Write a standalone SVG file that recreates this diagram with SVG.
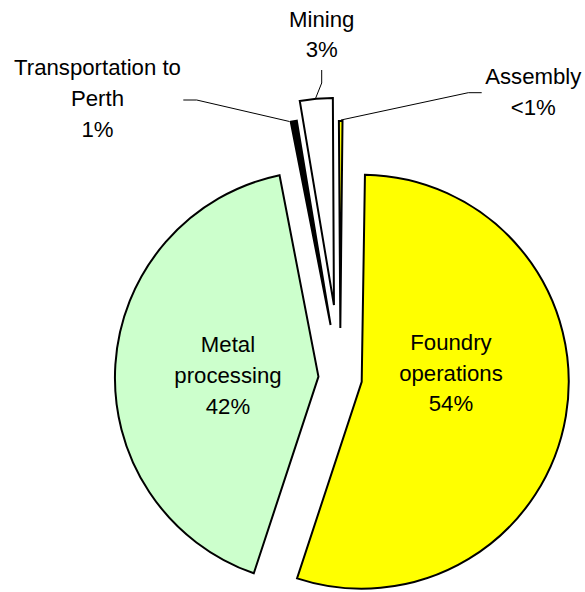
<svg xmlns="http://www.w3.org/2000/svg" width="585" height="592" viewBox="0 0 585 592">
  <style>
    .slice { stroke: #000; stroke-width: 2; }
    .lbl { font-family: "Liberation Sans", Arial, sans-serif; font-size: 22.2px; fill: #000; text-anchor: middle; }
    .lead { fill: none; stroke: #000; stroke-width: 1; }
  </style>
  <rect width="585" height="592" fill="#fff"/>

  <!-- exploded pie, radius 207, centre (340.2, 378.1); angles clockwise from 12 o'clock -->
  <g id="foundry">
    <path class="slice" fill="#FFFF00" d="M361.70,381.72 L364.95,174.75 A207,207 0 1 1 297.05,578.36 Z"/>
    <text class="lbl" x="451" y="350">Foundry</text>
    <text class="lbl" x="451" y="380.5">operations</text>
    <text class="lbl" x="451" y="411">54%</text>
  </g>

  <g id="metal">
    <path class="slice" fill="#CCFFCC" d="M318.45,376.67 L253.80,573.31 A207,207 0 0 1 279.54,175.24 Z"/>
    <text class="lbl" x="228" y="352">Metal</text>
    <text class="lbl" x="228" y="383">processing</text>
    <text class="lbl" x="228" y="413.5">42%</text>
  </g>

  <g id="transport">
    <path class="slice" fill="#000" d="M330.59,324.96 L290.74,121.83 A207,207 0 0 1 296.78,120.74 Z"/>
    <text class="lbl" x="97.5" y="75">Transportation to</text>
    <text class="lbl" x="97.5" y="106">Perth</text>
    <text class="lbl" x="97.5" y="137">1%</text>
  </g>

  <g id="mining">
    <path class="slice" fill="#fff" d="M333.94,305.07 L299.77,100.91 A207,207 0 0 1 332.86,98.07 Z"/>
    <text class="lbl" x="321.7" y="26.5">Mining</text>
    <text class="lbl" x="321.7" y="57">3%</text>
  </g>

  <g id="assembly">
    <path class="slice" fill="#FFFF00" d="M340.33,328.10 L338.89,121.10 A207,207 0 0 1 342.50,121.10 Z"/>
    <text class="lbl" x="533.3" y="84">Assembly</text>
    <text class="lbl" x="533.3" y="115">&lt;1%</text>
  </g>

  <!-- leader lines from labels to the small slices -->
  <g id="connectors">
    <polyline class="lead" points="183.3,100 196.7,100 289.5,121.5"/>
    <polyline class="lead" points="321.7,70 321.7,83 315.5,98.5"/>
    <polyline class="lead" points="341,120 468.3,92.7 481.7,92.7"/>
  </g>
</svg>
